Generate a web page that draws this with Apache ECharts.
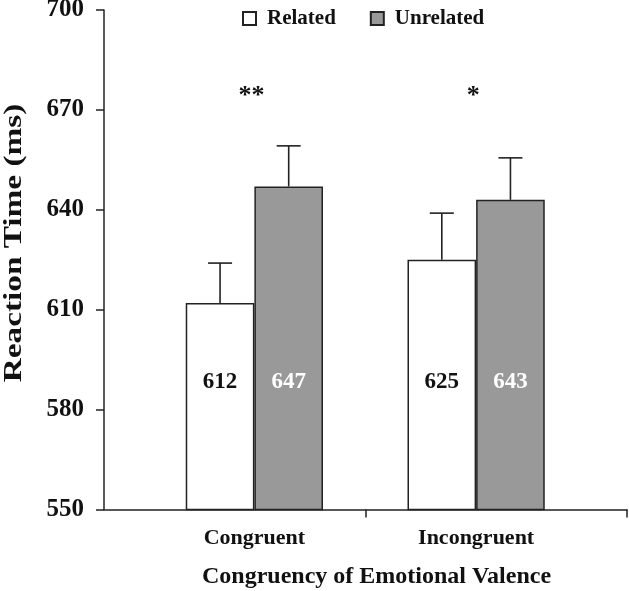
<!DOCTYPE html>
<html>
<head>
<meta charset="utf-8">
<script src="https://cdn.jsdelivr.net/npm/echarts@6/dist/echarts.min.js"></script>
<style>html,body{margin:0;padding:0;background:#fff;}#chart{width:629px;height:591px;}</style>
</head>
<body>
<div id="chart"></div>
<script>
var categories = ['Congruent', 'Incongruent'];
var seriesNames = ['Related', 'Unrelated'];
var relatedValues = [612, 625];
var unrelatedValues = [647, 643];
var relatedErrors = [12, 14];
var unrelatedErrors = [12.2, 12.6];
var significance = ['**', '*'];
var sigLevel = 674;
var yTicks = { min: 550, max: 700, interval: 30 };
var yTitle = 'Reaction Time (ms)';

var FONT = 'Liberation Serif';
var GAP = 0.381;
var chart = echarts.init(document.getElementById('chart'), null, { renderer: 'canvas' });

function errorSeries(name, values, errors, side) {
  return {
    type: 'custom', name: name + ' error', xAxisIndex: 1, yAxisIndex: 1, silent: true, z: 1,
    data: values.map(function (v, i) { return [i, v, v + errors[i]]; }),
    renderItem: function (params, api) {
      var band = api.size([1, 0])[0];
      var bw = band * (1 - GAP) / 2;
      var base = api.coord([api.value(0), api.value(1)]);
      var top = api.coord([api.value(0), api.value(2)]);
      var x = base[0] + side * bw / 2;
      var st = { stroke: '#222', lineWidth: 1.6 };
      return { type: 'group', children: [
        { type: 'line', shape: { x1: x, y1: base[1], x2: x, y2: top[1] }, style: st },
        { type: 'line', shape: { x1: x - 12, y1: top[1], x2: x + 12, y2: top[1] }, style: st }
      ]};
    }
  };
}

var option = {
  animation: false,
  backgroundColor: '#fff',
  textStyle: { fontFamily: FONT },
  graphic: [{
    type: 'text', x: 14, y: 243, rotation: Math.PI / 2, scaleX: 1.28,
    style: { text: yTitle, font: 'bold 26px "' + FONT + '"', fill: '#111', align: 'center', verticalAlign: 'middle' }
  }],
  legend: {
    top: 3, left: 237, itemWidth: 13, itemHeight: 13, itemGap: 34, icon: 'rect',
    data: seriesNames,
    textStyle: { fontFamily: FONT, fontWeight: 'bold', fontSize: 21, color: '#111', padding: [0, 0, 0, 6] }
  },
  grid: [
    { left: 104, right: 2, top: 10, bottom: 81.5, outerBoundsMode: 'none', containLabel: false },
    { left: 143.5, right: 42, top: 10, bottom: 81.5, outerBoundsMode: 'none', containLabel: false }
  ],
  xAxis: [
    {
      gridIndex: 0, type: 'value', min: 0, max: 2,
      axisLine: { show: true, lineStyle: { color: '#222', width: 1.5 } },
      axisTick: { show: true, customValues: [1, 2], length: 8, lineStyle: { color: '#222', width: 1.5 } },
      axisLabel: { show: false }, splitLine: { show: false },
      name: 'Congruency of Emotional Valence', nameLocation: 'middle', nameGap: 55,
      nameTextStyle: { fontFamily: FONT, fontWeight: 'bold', fontSize: 24, color: '#111', padding: [0, 0, 0, 22] }
    },
    {
      gridIndex: 1, type: 'category', data: categories,
      axisLine: { show: false }, axisTick: { show: false },
      axisLabel: { margin: 18, fontFamily: FONT, fontWeight: 'bold', fontSize: 22, color: '#111' }
    }
  ],
  yAxis: [
    {
      gridIndex: 0, type: 'value', min: yTicks.min, max: yTicks.max, interval: yTicks.interval,
      axisLine: { show: true, lineStyle: { color: '#222', width: 1.5 } },
      axisTick: { show: true, inside: false, length: 8, lineStyle: { color: '#222', width: 1.5 } },
      axisLabel: { margin: 20, fontFamily: FONT, fontWeight: 'bold', fontSize: 25, color: '#111' },
      splitLine: { show: false }
    },
    {
      gridIndex: 1, type: 'value', min: yTicks.min, max: yTicks.max, interval: yTicks.interval, show: false
    }
  ],
  series: [
    {
      name: seriesNames[0], type: 'bar', xAxisIndex: 1, yAxisIndex: 1, data: relatedValues,
      barGap: '0%', barCategoryGap: (GAP * 100) + '%', z: 2,
      itemStyle: { color: '#ffffff', borderColor: '#222', borderWidth: 1.5 },
      label: { show: true, position: 'insideBottom', distance: 117, fontFamily: FONT, fontWeight: 'bold', fontSize: 23, color: '#111' }
    },
    {
      name: seriesNames[1], type: 'bar', xAxisIndex: 1, yAxisIndex: 1, data: unrelatedValues,
      barGap: '0%', barCategoryGap: (GAP * 100) + '%', z: 2,
      itemStyle: { color: '#999999', borderColor: '#222', borderWidth: 1.5 },
      label: { show: true, position: 'insideBottom', distance: 117, fontFamily: FONT, fontWeight: 'bold', fontSize: 23, color: '#ffffff' }
    },
    errorSeries(seriesNames[0], relatedValues, relatedErrors, -1),
    errorSeries(seriesNames[1], unrelatedValues, unrelatedErrors, 1),
    {
      type: 'custom', name: 'sig', xAxisIndex: 1, yAxisIndex: 1, silent: true,
      data: significance.map(function (s, i) { return [i, sigLevel]; }),
      renderItem: function (params, api) {
        var p = api.coord([api.value(0), api.value(1)]);
        return { type: 'text', x: p[0] - 3, y: p[1], style: {
          text: significance[params.dataIndex], font: 'bold 26px "' + FONT + '"',
          fill: '#111', align: 'center', verticalAlign: 'middle'
        }};
      }
    }
  ]
};
chart.setOption(option);
</script>
</body>
</html>
